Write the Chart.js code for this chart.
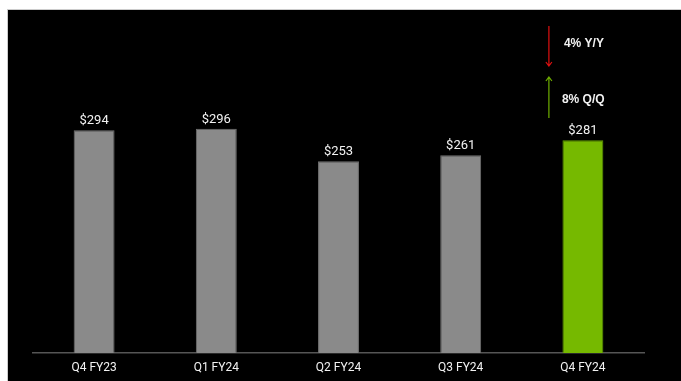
<!DOCTYPE html>
<html>
<head>
<meta charset="utf-8">
<script src="https://cdn.jsdelivr.net/npm/chart.js@4"></script>
<style>
  html, body { margin: 0; padding: 0; background: #fff; }
  #wrap { position: relative; width: 681px; height: 381px; overflow: hidden; }
  #panel { position: absolute; left: 7px; top: 9px; right: 0; bottom: 0; background: #000; border-left: 1px solid #ccc; border-top: 1px solid #ccc; }
  #revChart { position: absolute; left: 0; top: 0; }
</style>
</head>
<body>
<div id="wrap">
  <div id="panel"></div>
  <canvas id="revChart" width="681" height="381"></canvas>
</div>
<script>
const quarters = ["Q4 FY23", "Q1 FY24", "Q2 FY24", "Q3 FY24", "Q4 FY24"];
const revenue = [294, 296, 253, 261, 281];
const barColors = ["#8a8a8a", "#8a8a8a", "#8a8a8a", "#8a8a8a", "#76b900"];
const barBorders = ["#707070", "#707070", "#707070", "#707070", "#5f9a00"];
const changeLabels = ["4% Y/Y", "8% Q/Q"];

const revChartCanvas = document.getElementById("revChart");

// value labels on top of each bar
const valueLabels = {
  id: "valueLabels",
  afterDatasetsDraw(chart) {
    const ctx = chart.ctx;
    const meta = chart.getDatasetMeta(0);
    ctx.save();
    ctx.fillStyle = "#f2f2f2";
    ctx.font = "13px Roboto, 'DejaVu Sans', sans-serif";
    ctx.textAlign = "center";
    ctx.textBaseline = "bottom";
    meta.data.forEach((bar, i) => {
      ctx.fillText(`$${revenue[i]}`, bar.x, bar.y - 3);
    });
    ctx.restore();
  }
};

// Y/Y and Q/Q change callouts above the last bar
const changeCallout = {
  id: "changeCallout",
  afterDraw(chart) {
    const ctx = chart.ctx;
    const last = chart.getDatasetMeta(0).data[revenue.length - 1];
    const ax = last.x - 34;

    const arrow = (x, y1, y2, color) => {
      const dir = y2 > y1 ? 1 : -1;
      ctx.strokeStyle = color;
      ctx.lineWidth = 1.2;
      ctx.beginPath();
      ctx.moveTo(x, y1);
      ctx.lineTo(x, y2);
      ctx.moveTo(x - 3, y2 - dir * 4);
      ctx.lineTo(x, y2);
      ctx.lineTo(x + 3, y2 - dir * 4);
      ctx.stroke();
    };

    ctx.save();
    arrow(ax, 26, 66, "#e01010");
    arrow(ax, 118, 77, "#6fae00");

    ctx.fillStyle = "#f2f2f2";
    ctx.font = "bold 12px 'Liberation Sans', Arial, sans-serif";
    ctx.textAlign = "left";
    ctx.textBaseline = "middle";
    ctx.fillText(changeLabels[0], ax + 15, 44);
    ctx.fillText(changeLabels[1], ax + 13, 100);
    ctx.restore();
  }
};

new Chart(revChartCanvas, {
  type: "bar",
  data: {
    labels: quarters,
    datasets: [
      {
        label: "Revenue",
        data: revenue,
        backgroundColor: barColors,
        borderColor: barBorders,
        borderWidth: 1,
        categoryPercentage: 1,
        barPercentage: 0.335
      }
    ]
  },
  options: {
    responsive: false,
    animation: false,
    layout: { padding: { top: 50, left: 33, right: 37, bottom: 0 } },
    plugins: { legend: { display: false }, tooltip: { enabled: false } },
    scales: {
      x: {
        grid: { display: false, drawTicks: false },
        border: { display: true, color: "#555", width: 1.5 },
        ticks: {
          color: "#f2f2f2",
          padding: 8,
          font: { family: "Roboto, 'DejaVu Sans', sans-serif", size: 12 }
        },
        afterFit: scale => { scale.height = 28; }
      },
      y: {
        display: false,
        min: 0,
        max: 400
      }
    }
  },
  plugins: [valueLabels, changeCallout]
});
</script>
</body>
</html>
